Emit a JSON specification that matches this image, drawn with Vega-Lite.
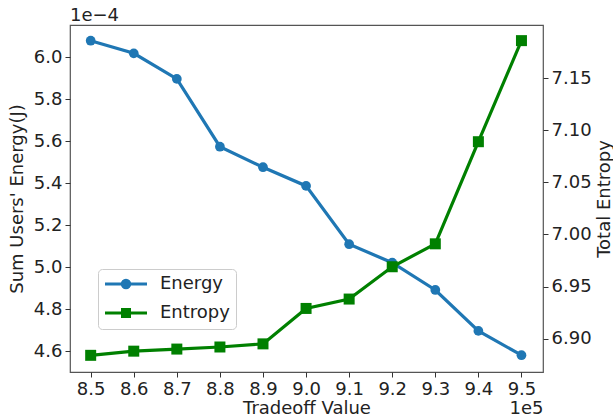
{
  "$schema": "https://vega.github.io/schema/vega-lite/v6.json",
  "width": 473,
  "height": 347,
  "autosize": {"type": "none"},
  "padding": {"left": 70, "top": 25, "right": 70, "bottom": 47},
  "background": "white",
  "title": {"text": "1e−4", "anchor": "start", "frame": "group", "fontSize": 18, "fontWeight": "normal", "font": "DejaVu Sans", "color": "#222", "offset": 0},
  "config": {
    "font": "DejaVu Sans",
    "view": {"stroke": "#555", "strokeWidth": 1.2},
    "axis": {"grid": false, "domain": false, "labelFontSize": 18, "titleFontSize": 18, "titleFontWeight": "normal", "labelColor": "#222", "titleColor": "#222", "tickColor": "#333", "tickSize": 5, "labelPadding": 3, "labelFont": "DejaVu Sans", "titleFont": "DejaVu Sans"}
  },
  "data": {"values": [
    {"tradeoff": 850000, "energy": 0.0006079, "entropy": 6.884},
    {"tradeoff": 860000, "energy": 0.0006019, "entropy": 6.888},
    {"tradeoff": 870000, "energy": 0.0005897, "entropy": 6.890},
    {"tradeoff": 880000, "energy": 0.0005574, "entropy": 6.892},
    {"tradeoff": 890000, "energy": 0.0005476, "entropy": 6.895},
    {"tradeoff": 900000, "energy": 0.0005387, "entropy": 6.929},
    {"tradeoff": 910000, "energy": 0.0005109, "entropy": 6.938},
    {"tradeoff": 920000, "energy": 0.0005021, "entropy": 6.969},
    {"tradeoff": 930000, "energy": 0.0004891, "entropy": 6.991},
    {"tradeoff": 940000, "energy": 0.0004696, "entropy": 7.089},
    {"tradeoff": 950000, "energy": 0.0004580, "entropy": 7.186}
  ]},
  "resolve": {"scale": {"x": "independent", "y": "independent"}},
  "layer": [
    {
      "encoding": {
        "x": {"field": "tradeoff", "type": "quantitative", "scale": {"domain": [845200, 955000], "nice": false, "zero": false},
          "axis": {"title": "Tradeoff Value", "orient": "bottom", "values": [850000, 860000, 870000, 880000, 890000, 900000, 910000, 920000, 930000, 940000, 950000], "labelExpr": "format(datum.value/100000, '.1f')", "titlePadding": 1}},
        "y": {"field": "energy", "type": "quantitative", "scale": {"domain": [0.000450, 0.0006154], "nice": false, "zero": false},
          "axis": {"title": "Sum Users' Energy(J)", "orient": "left", "values": [0.00046, 0.00048, 0.0005, 0.00052, 0.00054, 0.00056, 0.00058, 0.0006], "labelExpr": "format(datum.value*10000, '.1f')", "titlePadding": 7}},
        "color": {"datum": "Energy", "type": "nominal", "scale": {"domain": ["Energy", "Entropy"], "range": ["#1f77b4", "#008000"]},
          "legend": {"title": null, "orient": "none", "legendX": 28, "legendY": 244, "labelFontSize": 18, "labelColor": "#222", "labelFont": "DejaVu Sans",
            "padding": 6, "rowPadding": 9, "symbolSize": 100, "symbolStrokeWidth": 3, "symbolOffset": 13, "labelOffset": 25,
            "fillColor": "rgba(255,255,255,0.8)", "strokeColor": "#ccc", "cornerRadius": 4,
            "encode": {"symbols": {"update": {
              "shape": {"signal": "datum.value === 'Energy' ? 'M-4.2,0H4.2M0.75,0A0.75,0.75 0 1,1 -0.75,0A0.75,0.75 0 1,1 0.75,0Z' : 'M-4.2,0H4.2M-0.7,-0.7H0.7V0.7H-0.7Z'"},
              "fill": {"signal": "datum.value === 'Energy' ? '#1f77b4' : '#008000'"},
              "stroke": {"signal": "datum.value === 'Energy' ? '#1f77b4' : '#008000'"},
              "strokeWidth": {"value": 3},
              "opacity": {"value": 1}, "fillOpacity": {"value": 1}, "strokeOpacity": {"value": 1}
            }}}}}
      },
      "layer": [
        {"mark": {"type": "line", "strokeWidth": 3.2}},
        {"mark": {"type": "point", "shape": "circle", "filled": true, "size": 95, "opacity": 1}}
      ]
    },
    {
      "encoding": {
        "x": {"field": "tradeoff", "type": "quantitative", "scale": {"domain": [845200, 955000], "nice": false, "zero": false},
          "axis": {"title": "1e5", "orient": "bottom", "titleAnchor": "end", "labels": false, "ticks": false, "titlePadding": 27}},
        "y": {"field": "entropy", "type": "quantitative", "scale": {"domain": [6.868, 7.201], "nice": false, "zero": false},
          "axis": {"title": "Total Entropy", "orient": "right", "titleAngle": 270, "titleBaseline": "top", "values": [6.9, 6.95, 7.0, 7.05, 7.1, 7.15], "format": ".2f", "titlePadding": 4}},
        "color": {"datum": "Entropy", "type": "nominal"}
      },
      "layer": [
        {"mark": {"type": "line", "strokeWidth": 3.2}},
        {"mark": {"type": "point", "shape": "square", "filled": true, "size": 121, "opacity": 1}}
      ]
    }
  ]
}
